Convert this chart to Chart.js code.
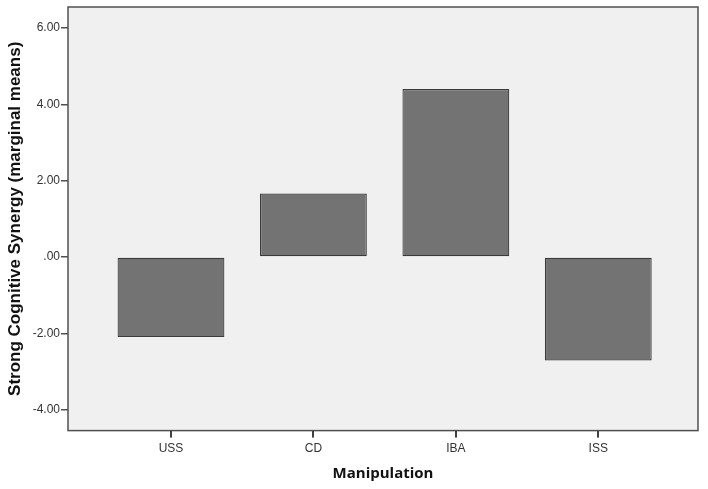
<!DOCTYPE html>
<html>
<head>
<meta charset="utf-8">
<script src="https://cdn.jsdelivr.net/npm/chart.js@4"></script>
<style>
  html, body { margin: 0; padding: 0; background: #fff; }
  #wrap { width: 708px; height: 489px; }
</style>
</head>
<body>
<div id="wrap"><canvas id="c" width="708" height="489"></canvas></div>
<script>
  // values
  const categories = ['USS', 'CD', 'IBA', 'ISS'];
  const means = [-2.10, 1.66, 4.40, -2.71];
  const yTicks = [-4, -2, 0, 2, 4, 6];

  const fmt = v => {
    const s = Math.abs(v).toFixed(2).replace(/^0\./, '.');
    return (v < 0 ? '-' : '') + s;
  };

  // grey plot background + frame + x tick marks, like SPSS output
  const plotFrame = {
    id: 'plotFrame',
    beforeDatasetsDraw(chart) {
      const { ctx, chartArea: a } = chart;
      ctx.save();
      ctx.fillStyle = '#f0f0f0';
      ctx.fillRect(a.left, a.top, a.right - a.left, a.bottom - a.top);
      ctx.restore();
    },
    afterDraw(chart) {
      const { ctx, chartArea: a } = chart;
      ctx.save();
      ctx.strokeStyle = '#505050';
      ctx.lineWidth = 1.5;
      ctx.strokeRect(a.left, a.top, a.right - a.left, a.bottom - a.top);
      try {
        const xs = chart.scales['x'];
        ctx.fillStyle = '#404040';
        categories.forEach((c, i) => {
          const px = xs.getPixelForValue(i);
          ctx.fillRect(Math.round(px) - 1, a.bottom, 2, 7);
        });
      } catch (e) {
        ctx.fillStyle = 'red';
        ctx.font = '12px sans-serif';
        ctx.fillText(String(e), 80, 20);
      }
      ctx.restore();
    }
  };

  new Chart(document.getElementById('c').getContext('2d'), {
    type: 'bar',
    data: {
      datasets: [{
        data: means.map((v, i) => ({ x: i, y: v })),
        backgroundColor: '#737373',
        borderColor: '#3a3a3a',
        borderWidth: 1.2,
        borderSkipped: false,
        categoryPercentage: 0.75,
        barPercentage: 1
      }]
    },
    options: {
      responsive: false,
      animation: false,
      layout: { padding: { top: 7, right: 10, left: 0, bottom: 6 } },
      plugins: { legend: { display: false }, tooltip: { enabled: false } },
      scales: {
        x: {
          type: 'linear',
          offset: false,
          min: -0.723,
          max: 3.70,
          afterBuildTicks: s => { s.ticks = categories.map((_, i) => ({ value: i })); },
          ticks: {
            callback: v => categories[v],
            color: '#333',
            font: { family: 'Liberation Sans, Arial, sans-serif', size: 12 },
            padding: 5,
            maxRotation: 0
          },
          grid: { display: true, color: 'rgba(0,0,0,0)', drawOnChartArea: false, drawTicks: true, tickLength: 6 },
          border: { display: false },
          title: {
            display: true,
            text: 'Manipulation',
            color: '#111',
            font: { family: 'Open Sans, sans-serif', size: 15, weight: 'bold' },
            padding: { top: 4, bottom: 0 }
          }
        },
        y: {
          min: -4.55,
          max: 6.55,
          afterBuildTicks: s => { s.ticks = yTicks.map(v => ({ value: v })); },
          afterFit: s => { s.width = 68; s.paddingTop = 0; s.paddingBottom = 0; },
          ticks: {
            callback: v => fmt(v),
            color: '#333',
            font: { family: 'Liberation Sans, Arial, sans-serif', size: 12 },
            padding: 1
          },
          grid: { drawOnChartArea: false, drawTicks: true, tickLength: 7, color: '#505050', lineWidth: 1.5 },
          border: { display: false },
          title: {
            display: true,
            text: 'Strong Cognitive Synergy (marginal means)',
            color: '#111',
            font: { family: 'Liberation Sans, Arial, sans-serif', size: 17, weight: 'bold' },
            padding: { top: 5, bottom: 0 }
          }
        }
      }
    },
    plugins: [plotFrame]
  });
</script>
</body>
</html>
